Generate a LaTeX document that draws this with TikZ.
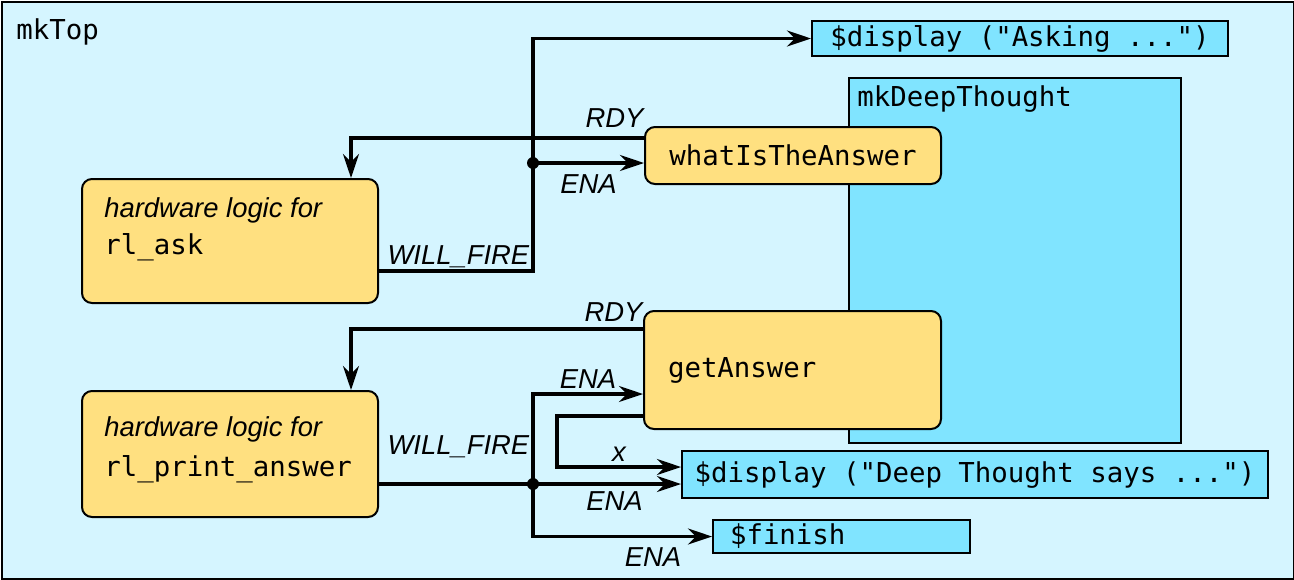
\documentclass[tikz,border=0pt]{standalone}
\usepackage{fontspec}
\setmainfont{Liberation Sans}
\setmonofont{DejaVu Sans Mono}
\usetikzlibrary{arrows.meta,calc,positioning}
\definecolor{topbg}{HTML}{D5F5FF}
\definecolor{modbg}{HTML}{80E4FF}
\definecolor{logic}{HTML}{FFE080}

\begin{document}
\begin{tikzpicture}[x=0.5pt,y=-0.5pt,
		font=\fontsize{13.7}{18.5}\selectfont,
		wire/.style={line width=1.6pt},
		arr/.style={-{Stealth[length=12pt,width=8pt,inset=4pt]}},
		logicbox/.style={draw,line width=1pt,fill=logic,rounded corners=5pt,anchor=north west,inner sep=0pt},
		modbox/.style={draw,line width=1pt,fill=modbg,anchor=north west,inner sep=0pt},
		sig/.style={font=\fontsize{13.7}{16}\selectfont\itshape,inner sep=2pt},
		code/.style={font=\fontsize{13.7}{16}\selectfont\ttfamily}
		]
			\useasboundingbox (0,0) rectangle (1294,579);
			\node[draw,line width=1pt,fill=topbg,anchor=north west,minimum width=646pt,minimum height=288.5pt,inner sep=0pt] (top) at (1,1) {};
			\node[code,anchor=west,inner sep=0pt] (topLbl) at (16,32) {mkTop};
			\node[modbox,minimum width=166pt,minimum height=182.5pt] (deep) at (848,77) {};
			\node[code,anchor=west,inner sep=0pt] (deepLbl) at (857,99) {mkDeepThought};
			\node[modbox,code,minimum width=208pt,minimum height=17.5pt] (dispAsk) at (811,20) {\$display ("Asking ...")};
			\node[modbox,code,minimum width=293pt,minimum height=23.5pt] (dispDeep) at (681,450) {\$display ("Deep Thought says ...")};
			\node[modbox,code,text width=111.5pt,align=left,inner xsep=8.5pt,minimum height=16.5pt] (finish) at (712,519) {\$finish};
			\node[logicbox,code,minimum width=148pt,minimum height=28.5pt] (whatIs) at (644,126) {whatIsTheAnswer};
			\node[logicbox,code,text width=124.5pt,align=left,inner xsep=12pt,minimum height=59pt] (getAns) at (643,310) {getAnswer};
			\node[logicbox,minimum width=148pt,minimum height=62pt] (ask) at (81,178) {};
			\node[anchor=north west,inner sep=0pt,align=left] (askTxt) at ([xshift=11.5pt,yshift=-9.5pt]ask.north west) {{\itshape hardware logic for}\\{\ttfamily rl\_ask}};
			\node[logicbox,minimum width=148pt,minimum height=63pt] (printAns) at (81,390) {};
			\node[anchor=north west,inner sep=0pt,align=left,font=\fontsize{13.7}{20}\selectfont] (printTxt) at ([xshift=11.5pt,yshift=-13pt]printAns.north west) {{\itshape hardware logic for}\\{\ttfamily rl\_print\_answer}};

			\coordinate (j1) at (533,163);
			\coordinate (j2) at (533,484);

			\draw[wire,arr] ([yshift=8.75pt]whatIs.west) node[sig,anchor=south east,xshift=2.5pt,yshift=2.5pt]{RDY} -| ([xshift=60.5pt]ask.north);
			\draw[wire,arr] ([yshift=-15pt]ask.east) node[sig,anchor=south west,xshift=1.5pt,yshift=-1pt]{WILL\_FIRE} -| (j1) |- (dispAsk.west);
			\draw[wire,arr] (j1) -- node[sig,below,yshift=-3pt]{ENA} (whatIs.west |- j1);
			\fill (j1) circle (3pt);

			\draw[wire,arr] ([yshift=20.5pt]getAns.west) node[sig,anchor=south east,xshift=2.5pt,yshift=1pt]{RDY} -| ([xshift=60.5pt]printAns.north);
			\draw[wire,arr] (printAns.east |- j2) node[sig,anchor=south west,xshift=1.5pt,yshift=10.5pt]{WILL\_FIRE} -- node[sig,below,pos=.78,yshift=-1pt]{ENA} (dispDeep.west |- j2);
			\draw[wire,arr] (j2) |- node[sig,above,pos=.75]{ENA} ([yshift=-12pt]getAns.west);
			\draw[wire,arr] (j2) |- node[sig,below,pos=.835,yshift=-3pt]{ENA} (finish.west);
			\fill (j2) circle (3pt);
			\draw[wire,arr] ([yshift=-23pt]getAns.west) -- ++(-43pt,0) |- node[sig,above,pos=.75]{x} ([yshift=3.75pt]dispDeep.west);
		\end{tikzpicture}
\end{document}
